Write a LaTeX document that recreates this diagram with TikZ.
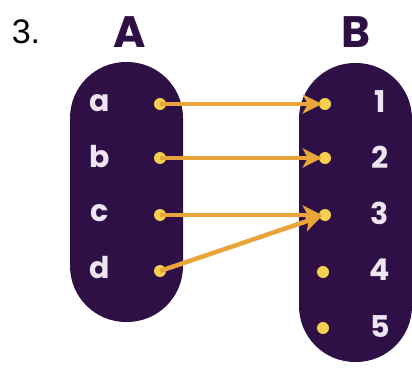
\documentclass[tikz,border=0pt]{standalone}
\usepackage{fontspec}
\setmainfont{Liberation Sans}
\newfontfamily\rnd{Poppins}
\usetikzlibrary{arrows.meta}
\definecolor{blob}{HTML}{2E1047}
\definecolor{lineor}{HTML}{E9A43A}
\definecolor{dotyel}{HTML}{F6CF4F}
\definecolor{elemtxt}{HTML}{EDE6F2}
\tikzset{
  setblob/.style={fill=blob, rounded corners=56pt},
  elem/.style={text=elemtxt, font=\rnd\bfseries\fontsize{30}{30}\selectfont, anchor=center},
  title/.style={text=blob, font=\rnd\bfseries\fontsize{44}{44}\selectfont},
  pt/.style={circle, fill=dotyel, inner sep=0pt, minimum size=12pt},
  maparrow/.style={draw=lineor, line width=4.5pt, -{Stealth[length=19pt,width=19pt,inset=5pt]}, shorten >=-3pt},
}
\begin{document}
\begin{tikzpicture}[x=1pt,y=-1pt]
\useasboundingbox (0,0) rectangle (412,369);
\node[font=\fontsize{34}{34}\selectfont, text=black] (num) at (26,32) {3.};
\node[title] (tA) at (130,32) {A};
\node[title] (tB) at (356,32) {B};
\fill[setblob] (70,62) rectangle (183,322);
\fill[setblob] (299,63) rectangle (412,362);
\node[elem] (la) at (100,103) {a};
\node[elem] (lb) at (100,157) {b};
\node[elem] (lc) at (100,213) {c};
\node[elem] (ld) at (100,268) {d};
\node[elem] (r1) at (380,102) {1};
\node[elem] (r2) at (380,157) {2};
\node[elem] (r3) at (380,213) {3};
\node[elem] (r4) at (380,270) {4};
\node[elem] (r5) at (380,327) {5};
\node[pt] (da) at (160,104) {};
\node[pt] (db) at (160,158) {};
\node[pt] (dc) at (160,215) {};
\node[pt] (dd) at (160,271) {};
\node[pt] (e1) at (325,104) {};
\node[pt] (e2) at (325,158) {};
\node[pt] (e3) at (325,215) {};
\node[pt] (e4) at (323,272) {};
\node[pt] (e5) at (323,328) {};
\draw[maparrow] (da.center) -- (e1);
\draw[maparrow] (db.center) -- (e2);
\draw[maparrow] (dc.center) -- (e3);
\draw[maparrow] (dd.center) -- (e3);
\end{tikzpicture}
\end{document}
